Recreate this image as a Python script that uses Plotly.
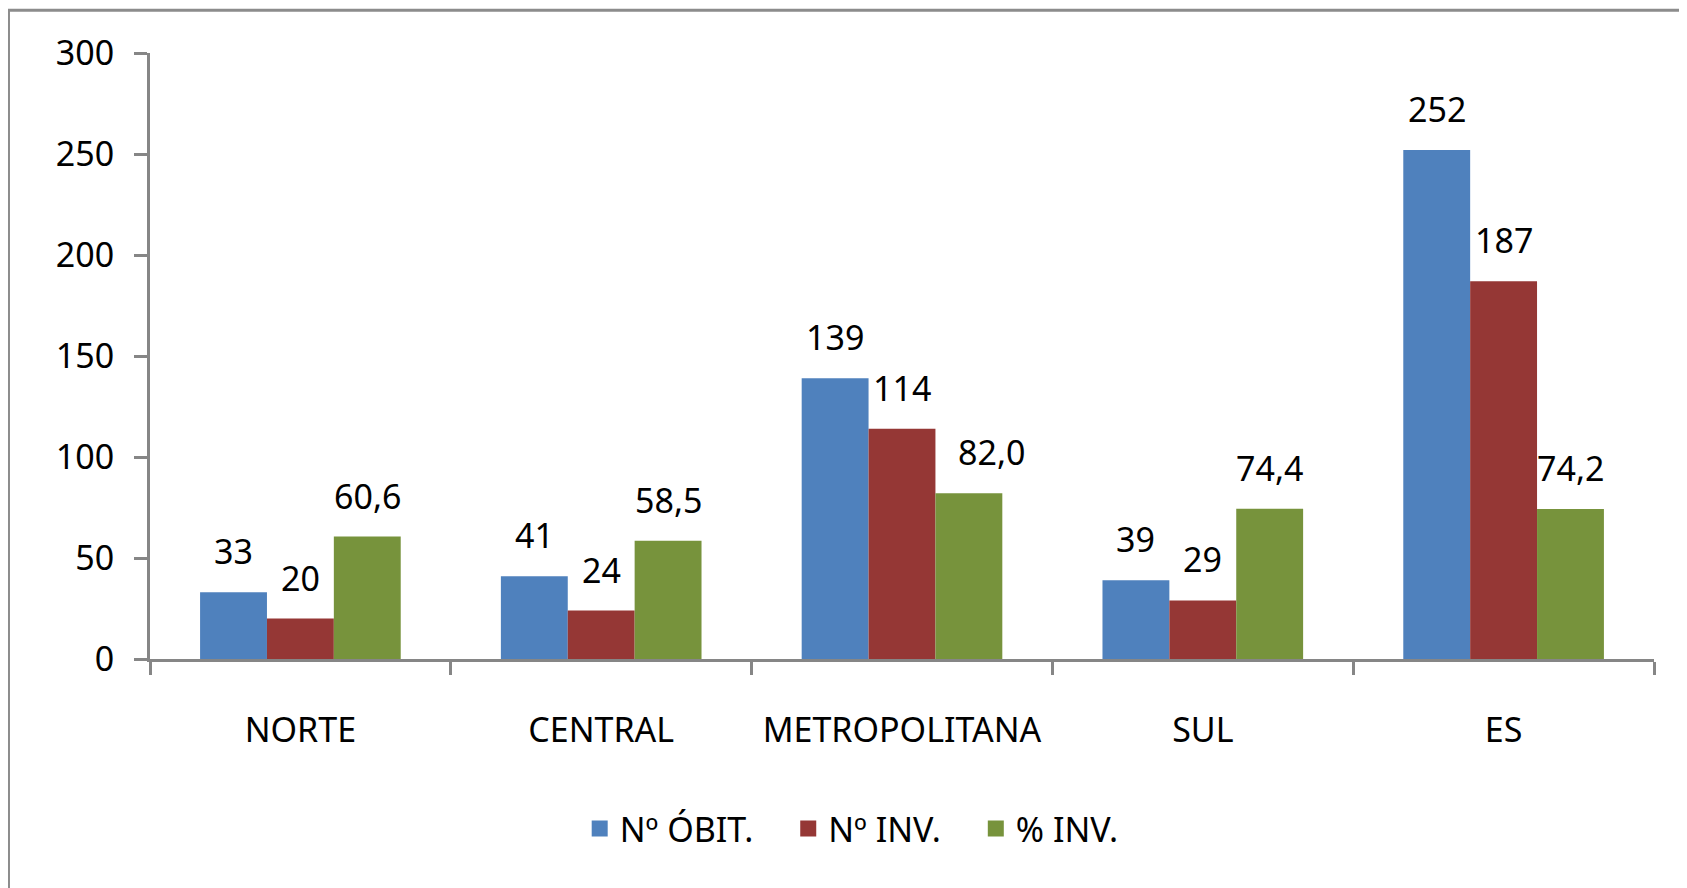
import plotly.graph_objects as go

categories = ["NORTE", "CENTRAL", "METROPOLITANA", "SUL", "ES"]
obitos = [33, 41, 139, 39, 252]
investigados = [20, 24, 114, 29, 187]
pct_investigados = [60.6, 58.5, 82.0, 74.4, 74.2]
series_names = ["Nº ÓBIT.", "Nº INV.", "% INV."]
y_ticks = [0, 50, 100, 150, 200, 250, 300]

colors = ["#4F81BD", "#953735", "#77933C"]
FONT = "Noto Sans"
FS = 34
BARGAP = 0.333
PAD = "\u00a0" * 3 + "\u200a"
# label nudges (series index, category index) -> x shift in px, as in the original
label_xshift = {(2, 2): 23}

series = [obitos, investigados, pct_investigados]
fmt = [lambda v: f"{v:d}", lambda v: f"{v:d}", lambda v: f"{v:.1f}".replace(".", ",")]

fig = go.Figure()
for name, vals, col in zip(series_names, series, colors):
    fig.add_trace(go.Bar(x=categories, y=vals, name=name, showlegend=False,
                         marker=dict(color=col, line=dict(width=0))))
# legend entries (larger square keys)
for name, col in zip(series_names, colors):
    fig.add_trace(go.Scatter(x=[None], y=[None], mode="markers", name=name + PAD,
                             marker=dict(symbol="square", size=19, color=col), showlegend=True))

bw = (1 - BARGAP) / 3
for s, vals in enumerate(series):
    off = (s - 1) * bw
    for i, v in enumerate(vals):
        fig.add_annotation(x=i + off, y=v, xref="x", yref="y", text=fmt[s](v),
                           showarrow=False, yanchor="bottom", yshift=16,
                           xshift=label_xshift.get((s, i), 0),
                           font=dict(family=FONT, size=FS, color="black"))

fig.add_shape(type="rect", xref="paper", yref="paper", x0=-0.0941, x1=1.2, y0=-0.6, y1=1.0705,
              line=dict(color="#8C8C8C", width=3), fillcolor="rgba(0,0,0,0)", layer="below")

fig.update_layout(
    width=1687, height=888,
    margin=dict(l=142, r=41, t=45, b=237),
    paper_bgcolor="white", plot_bgcolor="white",
    barmode="group", bargap=BARGAP, bargroupgap=0,
    font=dict(family=FONT, size=FS, color="black"),
    showlegend=True,
    legend=dict(orientation="h", x=0.2857, xanchor="left", y=-0.2805, yanchor="middle",
                itemsizing="trace",
                font=dict(family=FONT, size=FS, color="black")),
)
fig.update_xaxes(showline=True, linecolor="#868686", linewidth=3, ticks="outside", tickson="boundaries",
                 ticklen=13, tickwidth=3, tickcolor="#868686", showgrid=False, ticklabelstandoff=39,
                 tickfont=dict(family=FONT, size=FS, color="black"))
fig.update_yaxes(range=[0, 300], tickvals=y_ticks, showline=True, linecolor="#868686", linewidth=3,
                 ticks="outside", ticklen=13, tickwidth=3, tickcolor="#868686", showgrid=False,
                 zeroline=False, ticklabelstandoff=13,
                 tickfont=dict(family=FONT, size=FS, color="black"))

fig.write_html("out.html")
